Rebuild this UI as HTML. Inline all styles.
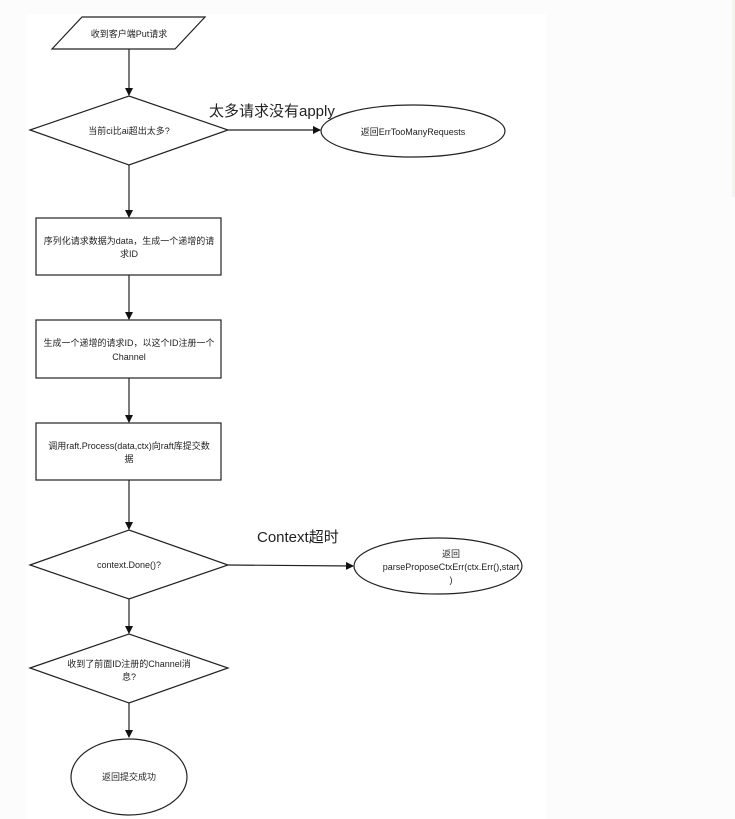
<!DOCTYPE html>
<html><head><meta charset="utf-8"><style>
html,body{margin:0;padding:0;background:#fcfcfc;}
svg{display:block}
text{font-family:"Liberation Sans","Noto Sans CJK SC",sans-serif;fill:#222}
</style></head><body>
<svg width="735" height="819" viewBox="0 0 735 819" xmlns="http://www.w3.org/2000/svg">
<defs><marker id="a" markerWidth="8" markerHeight="8" refX="7" refY="4" orient="auto" markerUnits="userSpaceOnUse"><path d="M0,0 L8,4 L0,8 z" fill="#111"/></marker></defs>
<rect x="0" y="0" width="735" height="819" fill="#fcfcfc"/>
<rect x="26" y="14" width="520" height="805" fill="#fff"/>
<rect x="732" y="0" width="3" height="197" fill="#f6f4ee"/>
<g stroke="#222" stroke-width="1.2" fill="#fff">
<polygon points="82,17 205,17 175,49 52,49"/>
<polygon points="30,130 129,96 228,130 129,165"/>
<ellipse cx="413" cy="131" rx="92" ry="26"/>
<rect x="36" y="218" width="185" height="57"/>
<rect x="36" y="320" width="185" height="58"/>
<rect x="36" y="423" width="185" height="57"/>
<polygon points="30,565 129,530 228,565 129,599"/>
<ellipse cx="438" cy="566" rx="84" ry="28"/>
<polygon points="30,668 129,634 228,668 129,703"/>
<ellipse cx="129" cy="777" rx="58" ry="38"/>
</g>
<g stroke="#222" stroke-width="1.2" fill="none" marker-end="url(#a)">
<line x1="129" y1="49" x2="129" y2="95"/>
<line x1="228" y1="130" x2="320" y2="130"/>
<line x1="129" y1="165" x2="129" y2="217"/>
<line x1="129" y1="275" x2="129" y2="319"/>
<line x1="129" y1="378" x2="129" y2="422"/>
<line x1="129" y1="480" x2="129" y2="529"/>
<line x1="228" y1="565" x2="353" y2="566"/>
<line x1="129" y1="599" x2="129" y2="633"/>
<line x1="129" y1="703" x2="129" y2="737"/>
</g>
<g font-size="9" text-anchor="middle">
<text x="129" y="37">收到客户端Put请求</text>
<text x="129" y="134">当前ci比ai超出太多?</text>
<text x="413" y="135">返回ErrTooManyRequests</text>
<text x="129" y="244">序列化请求数据为data，生成一个递增的请</text>
<text x="129" y="257">求ID</text>
<text x="129" y="346">生成一个递增的请求ID，以这个ID注册一个</text>
<text x="129" y="360">Channel</text>
<text x="129" y="449">调用raft.Process(data,ctx)向raft库提交数</text>
<text x="129" y="462">据</text>
<text x="129" y="568">context.Done()?</text>
<text x="451" y="557">返回</text>
<text x="451" y="570">parseProposeCtxErr(ctx.Err(),start</text>
<text x="451" y="583">)</text>
<text x="129" y="667">收到了前面ID注册的Channel消</text>
<text x="129" y="680">息?</text>
<text x="129" y="780">返回提交成功</text>
</g>
<text x="209" y="116" font-size="15">太多请求没有apply</text>
<text x="257" y="542" font-size="15">Context超时</text>
</svg>
</body></html>
